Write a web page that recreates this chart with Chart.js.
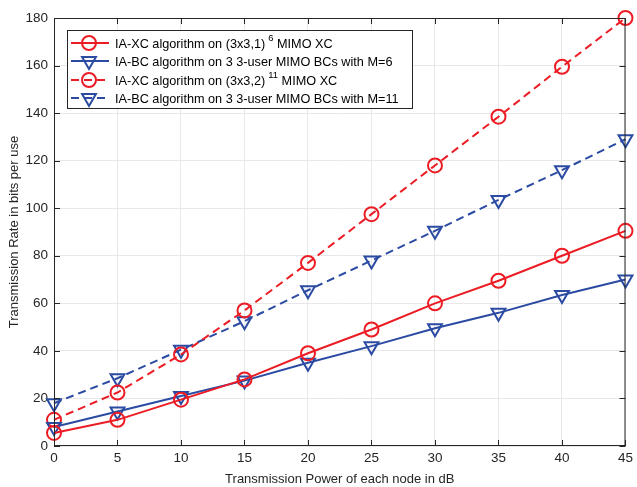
<!DOCTYPE html>
<html>
<head>
<meta charset="utf-8">
<script src="https://cdn.jsdelivr.net/npm/chart.js@4.4.1/dist/chart.umd.min.js"></script>
<style>
  html, body { margin: 0; padding: 0; background: #fff; }
  #wrap { position: relative; width: 637px; height: 487px; }
</style>
</head>
<body>
<div id="wrap"><canvas id="c" width="637" height="487"></canvas></div>
<script>
// Transmission rate vs. transmit power, IA-XC vs IA-BC
const powerDb = [0, 5, 10, 15, 20, 25, 30, 35, 40, 45];
const xc1 = [5.5, 11, 19.5, 28, 39, 49, 60, 69.5, 80, 90.5];
const bc6 = [8, 14.5, 21, 27.5, 35, 42, 49.5, 56, 63.5, 70];
const xc2 = [11, 22.5, 38.5, 57, 77, 97.5, 118, 138.5, 159.5, 180];
const bc11 = [18, 28.5, 40.5, 52.5, 65.5, 78, 90.5, 103.5, 116, 129];

const RED = '#ec1c24';
const BLUE = '#2b4ba3';
const AXIS = '#262626';
const FONT = '"Liberation Sans", Arial, Helvetica, sans-serif';

// legend rows: text before sup, sup, text after
const legendRows = [
  { pre: 'IA-XC algorithm on (3x3,1)', sup: '6', post: ' MIMO XC', color: RED, marker: 'circle', dash: [] },
  { pre: 'IA-BC algorithm on 3 3-user MIMO BCs with M=6', sup: '', post: '', color: BLUE, marker: 'tri', dash: [] },
  { pre: 'IA-XC algorithm on (3x3,2)', sup: '11', post: ' MIMO XC', color: RED, marker: 'circle', dash: [8, 5] },
  { pre: 'IA-BC algorithm on 3 3-user MIMO BCs with M=11', sup: '', post: '', color: BLUE, marker: 'tri', dash: [8, 5] }
];

function series(data, color, style, dash) {
  return {
    data: data.map(function (v, i) { return { x: powerDb[i], y: v }; }),
    borderColor: color,
    backgroundColor: 'rgba(0,0,0,0)',
    borderWidth: 2,
    borderDash: dash,
    pointStyle: style === 'tri' ? 'triangle' : 'circle',
    rotation: style === 'tri' ? 180 : 0,
    pointRadius: style === 'tri' ? 8 : 7,
    pointBorderWidth: 2,
    pointBorderColor: color,
    pointBackgroundColor: 'rgba(0,0,0,0)',
    clip: false,
    tension: 0
  };
}

function drawMarker(ctx, kind, x, y, color) {
  ctx.save();
  ctx.strokeStyle = color;
  ctx.lineWidth = 2;
  ctx.setLineDash([]);
  ctx.beginPath();
  if (kind === 'circle') {
    ctx.arc(x, y, 7, 0, Math.PI * 2);
  } else {
    const r = 8;
    ctx.moveTo(x - r * 0.866, y - r * 0.5);
    ctx.lineTo(x + r * 0.866, y - r * 0.5);
    ctx.lineTo(x, y + r);
    ctx.closePath();
  }
  ctx.stroke();
  ctx.restore();
}

const framePlugin = {
  id: 'frame',
  afterDraw: function (chart) {
    const ctx = chart.ctx;
    const a = chart.chartArea;
    const xs = chart.scales.x, ys = chart.scales.y;
    ctx.save();
    ctx.strokeStyle = AXIS;
    ctx.lineWidth = 1;
    ctx.setLineDash([]);
    ctx.strokeRect(a.left + 0.5, a.top + 0.5, a.right - a.left - 1, a.bottom - a.top - 1);
    // inward ticks on all four sides
    ctx.beginPath();
    powerDb.forEach(function (v) {
      const px = Math.round(xs.getPixelForValue(v)) + 0.5;
      ctx.moveTo(px, a.bottom); ctx.lineTo(px, a.bottom - 6);
      ctx.moveTo(px, a.top); ctx.lineTo(px, a.top + 6);
    });
    for (let v = 0; v <= 180; v += 20) {
      const py = Math.round(ys.getPixelForValue(v)) + 0.5;
      ctx.moveTo(a.left, py); ctx.lineTo(a.left + 6, py);
      ctx.moveTo(a.right, py); ctx.lineTo(a.right - 6, py);
    }
    ctx.stroke();

    // legend
    const bx = 67, by = 30, bw = 345, bh = 78;
    ctx.fillStyle = '#fff';
    ctx.fillRect(bx, by, bw, bh);
    ctx.strokeStyle = '#262626';
    ctx.strokeRect(bx + 0.5, by + 0.5, bw, bh);
    const rowY = [43, 61, 80, 98];
    legendRows.forEach(function (r, i) {
      const y = rowY[i];
      ctx.strokeStyle = r.color;
      ctx.lineWidth = 2;
      ctx.setLineDash(r.dash);
      ctx.beginPath();
      ctx.moveTo(71, y); ctx.lineTo(109, y);
      ctx.stroke();
      drawMarker(ctx, r.marker, 89, y, r.color);
      ctx.fillStyle = '#000';
      ctx.textBaseline = 'middle';
      ctx.textAlign = 'left';
      ctx.font = '12.7px ' + FONT;
      let tx = 115;
      ctx.fillText(r.pre, tx, y + 1);
      tx += ctx.measureText(r.pre).width;
      if (r.sup) {
        ctx.font = '9.5px ' + FONT;
        ctx.fillText(r.sup, tx + 3, y - 5);
        tx += ctx.measureText(r.sup).width + 3;
        ctx.font = '12.7px ' + FONT;
        ctx.fillText(r.post, tx, y + 1);
      }
    });
    ctx.restore();
  }
};

new Chart(document.getElementById('c'), {
  type: 'line',
  data: {
    datasets: [
      series(xc1, RED, 'circle', []),
      series(bc6, BLUE, 'tri', []),
      series(xc2, RED, 'circle', [8, 5]),
      series(bc11, BLUE, 'tri', [8, 5])
    ]
  },
  options: {
    responsive: false,
    animation: false,
    layout: { padding: { top: 18, right: 9, left: 0, bottom: 0 } },
    plugins: { legend: { display: false }, tooltip: { enabled: false } },
    scales: {
      x: {
        type: 'linear', min: 0, max: 45,
        afterFit: function (s) { s.height = 41; },
        ticks: { stepSize: 5, color: AXIS, font: { family: FONT, size: 13.5 }, padding: 4, maxRotation: 0 },
        grid: { color: '#e8e8e8', drawTicks: false },
        border: { display: false },
        title: { display: true, text: 'Transmission Power of each node in dB', color: AXIS,
                 font: { family: FONT, size: 13 }, padding: { top: 0, bottom: 0 } }
      },
      y: {
        type: 'linear', min: 0, max: 180,
        afterFit: function (s) { s.width = 54; },
        ticks: { stepSize: 20, color: AXIS, font: { family: FONT, size: 13.5 }, padding: 6 },
        grid: { color: '#e8e8e8', drawTicks: false },
        border: { display: false },
        title: { display: true, text: 'Transmission Rate in bits per use', color: AXIS,
                 font: { family: FONT, size: 13 }, padding: { top: 7, bottom: 0 } }
      }
    }
  },
  plugins: [framePlugin]
});
</script>
</body>
</html>
